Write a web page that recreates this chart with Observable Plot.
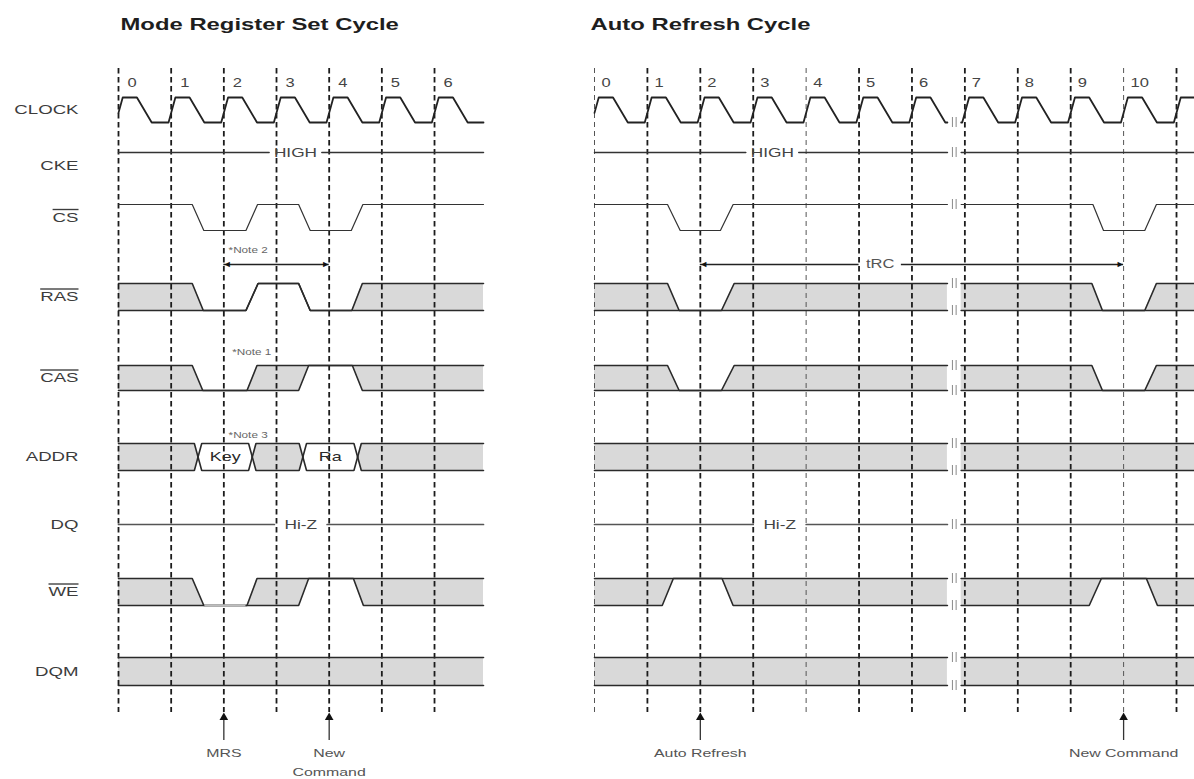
<!DOCTYPE html>
<html><head><meta charset="utf-8">
<script src="https://cdn.jsdelivr.net/npm/d3@7"></script>
<script src="https://cdn.jsdelivr.net/npm/@observablehq/plot@0.6"></script>
<style>
html,body{margin:0;padding:0;background:#fff;}
#wrap{display:flex;width:1194px;height:779px;overflow:hidden;}
#wrap svg{display:block;flex:none;}
</style></head><body><div id="wrap"></div>
<script>
// ================= DATA (time in clock cycles; levels H / L / M) =================
const signalNames = ["CLOCK","CKE","CS","RAS","CAS","ADDR","DQ","WE","DQM"];
const overlined = ["CS","RAS","CAS","WE"];
// one clock pulse, relative to its rising edge
const clockShape = [[-0.05,"L"],[0.08,"H"],[0.35,"H"],[0.63,"L"]];

// ---- Mode Register Set Cycle ----
const mrsTitle = "Mode Register Set Cycle";
const mrsEnd = 6.93;
const mrsEdges = [0,1,2,3,4,5,6];
const mrsTickLabels = ["0","1","2","3","4","5","6"];
const mrsCKE = {text:"HIGH", t:3.36};
const mrsDQ = {text:"Hi-Z", t:3.46};
const mrsCS  = [[0,"H"],[1.4,"H"],[1.62,"L"],[2.42,"L"],[2.64,"H"],[3.42,"H"],[3.64,"L"],[4.42,"L"],[4.64,"H"],[6.93,"H"]];
const mrsRAS = [[0,"H","L"],[1.4,"H","L"],[1.61,"L","L"],[2.42,"L","L"],[2.65,"H","H"],[3.42,"H","H"],[3.64,"L","L"],[4.43,"L","L"],[4.63,"H","L"],[6.93,"H","L"]];
const mrsCAS = [[0,"H","L"],[1.4,"H","L"],[1.6,"L","L"],[2.44,"L","L"],[2.63,"H","L"],[3.42,"H","L"],[3.61,"H","H"],[4.44,"H","H"],[4.63,"H","L"],[6.93,"H","L"]];
const mrsWE  = [[0,"H","L"],[1.4,"H","L"],[1.62,"L","L"],[2.44,"L","L"],[2.63,"H","L"],[3.42,"H","L"],[3.61,"H","H"],[4.46,"H","H"],[4.65,"H","L"],[6.93,"H","L"]];
const mrsWEFaint = [[1.64, 2.42]];   // faint low stretch of WE
const mrsDQM = [[0,"H","L"],[6.93,"H","L"]];
const mrsADDR = [[0,1.51,null],[1.51,2.54,"Key"],[2.54,3.5,null],[3.5,4.54,"Ra"],[4.54,6.93,null]];
const mrsEvents = [{t:2, lines:["MRS"]},{t:4, lines:["New","Command"]}];
const mrsSpans = [{t1:2, t2:4, text:null}];
const mrsNotes = [{t:2.09, text:"*Note 2", at:"note2"},{t:2.16, text:"*Note 1", at:"note1"},{t:2.09, text:"*Note 3", at:"note3"}];
const mrsThinEdges = [];

// ---- Auto Refresh Cycle ----
const arTitle = "Auto Refresh Cycle";
const arEnd = 11.34;
const arEdges = [0,1,2,3,4,5,6,7,8,9,10,11];
const arTickLabels = ["0","1","2","3","4","5","6","7","8","9","10"];
const arBreak = [6.67, 6.93];
const arCKE = {text:"HIGH", t:3.36};
const arDQ = {text:"Hi-Z", t:3.5};
const arCS  = [[0,"H"],[1.38,"H"],[1.62,"L"],[2.38,"L"],[2.62,"H"],[9.42,"H"],[9.62,"L"],[10.4,"L"],[10.62,"H"],[11.34,"H"]];
const arRAS = [[0,"H","L"],[1.38,"H","L"],[1.6,"L","L"],[2.4,"L","L"],[2.64,"H","L"],[9.4,"H","L"],[9.6,"L","L"],[10.4,"L","L"],[10.62,"H","L"],[11.34,"H","L"]];
const arCAS = [[0,"H","L"],[1.38,"H","L"],[1.6,"L","L"],[2.4,"L","L"],[2.64,"H","L"],[9.4,"H","L"],[9.6,"L","L"],[10.4,"L","L"],[10.62,"H","L"],[11.34,"H","L"]];
const arWE  = [[0,"H","L"],[1.28,"H","L"],[1.49,"H","H"],[2.41,"H","H"],[2.62,"H","L"],[9.35,"H","L"],[9.58,"H","H"],[10.43,"H","H"],[10.64,"H","L"],[11.34,"H","L"]];
const arWEFaint = [];
const arDQM = [[0,"H","L"],[11.34,"H","L"]];
const arADDR = [[0,11.34,null]];
const arEvents = [{t:2, lines:["Auto Refresh"]},{t:10, lines:["New Command"]}];
const arSpans = [{t1:2, t2:10, text:"tRC", tt:5.4}];
const arNotes = [];
const arThinEdges = [0,4,10];

// ================= LAYOUT (pixels) =================
const lanes = {CLOCK:[109.5,12.5], CKE:[165,13], CS:[217,13], RAS:[296.5,13.5], CAS:[377.5,12.5],
               ADDR:[456.5,13.5], DQ:[524,13], WE:[591.5,13.5], DQM:[671,14]};
const annotY = {note2:250, span:264, note1:352, note3:435, tick:83, title:24, ruleTop:68, ruleBottom:712,
                arrowTip:717, arrowTail:740, evLine1:753, evLine2:772};
const STRETCH = 1.38;
const GREY = "#d9d9d9";

function lv(sig, l){ const [c,h] = lanes[sig]; return c + (l==="H" ? -h : l==="L" ? h : 0); }
function clip(pts, a, b){
  const out = [];
  const lerp = (q,p,t) => { const f=(t-q.t)/(p.t-q.t); const o={t}; for (const k in p) if (k!=="t") o[k]=q[k]+(p[k]-q[k])*f; return o; };
  for (let i=0;i<pts.length;i++){
    const p = pts[i], q = pts[i-1];
    if (q && q.t<a && p.t>a) out.push(lerp(q,p,a));
    if (p.t>=a && p.t<=b) out.push(p);
    if (q && q.t<b && p.t>b) out.push(lerp(q,p,b));
  }
  return out;
}

function buildPanel(P){
  const brk = P.brk;
  const split = (pts, z) => brk
    ? [...clip(pts,-Infinity,brk[0]).map(p=>({...p,z:z+"a"})), ...clip(pts,brk[1],Infinity).map(p=>({...p,z:z+"b"}))]
    : pts.map(p=>({...p,z:z+"a"}));

  // clock
  let ck = [];
  for (const k of P.edges) for (const [dt,l] of clockShape) ck.push({t:k+dt, y:lv("CLOCK",l)});
  ck.push({t:P.end+1, y:lv("CLOCK","L")});
  const clockData = split(clip(ck,0,P.end), "clk");
  // CS
  const csData = split(P.cs.map(([t,l])=>({t, y:lv("CS",l)})), "cs");
  // CKE / DQ with a gap for their text
  const gapLine = (sig, lvl, txt, half) => {
    const pts = [{t:0,y:lv(sig,lvl)},{t:P.end,y:lv(sig,lvl)}];
    return [...split(clip(pts,0,txt.t-half), sig+"1"), ...split(clip(pts,txt.t+half,P.end), sig+"2")];
  };
  const ckeData = gapLine("CKE","H",P.cke,0.5);
  const dqData = gapLine("DQ","M",P.dq,0.5);
  // envelopes (hi / lo) of bus-style signals
  const env = (sig, arr) => split(arr.map(([t,h,l])=>({t, hi:lv(sig,h), lo:lv(sig,l)})), sig);
  const envData = [...env("RAS",P.ras), ...env("CAS",P.cas), ...env("WE",P.we), ...env("DQM",P.dqm)];
  const weFaint = P.weFaint.map(([a,b])=>({a,b}));
  // ADDR bus segments
  const d = 0.07, AH = lv("ADDR","H"), AL = lv("ADDR","L"), AM = lv("ADDR","M");
  const busLine = [], busFill = [], busText = [];
  P.addr.forEach(([t0,t1,label],i)=>{
    const pts = [];
    if (t0<=0) pts.push({t:t0,hi:AH,lo:AL}); else pts.push({t:t0,hi:AM,lo:AM},{t:t0+d,hi:AH,lo:AL});
    if (t1>=P.end) pts.push({t:t1,hi:AH,lo:AL}); else pts.push({t:t1-d,hi:AH,lo:AL},{t:t1,hi:AM,lo:AM});
    const s = split(pts, "addr"+i);
    busLine.push(...s);
    if (label==null) busFill.push(...s); else busText.push({t:(t0+t1)/2, text:label});
  });
  // break markers
  const brkMarks = [];
  if (brk) {
    const ys = [lv("CLOCK","L"), lv("CKE","H"), lv("CS","H"), lv("RAS","H"), lv("RAS","L"), lv("CAS","H"), lv("CAS","L"),
                lv("ADDR","H"), lv("ADDR","L"), lv("DQ","M"), lv("WE","H"), lv("WE","L"), lv("DQM","H"), lv("DQM","L")];
    const tm = (brk[0]+brk[1])/2;
    for (const y of ys) for (const t of [tm-0.035, tm+0.035]) brkMarks.push({t, y});
  }
  // spans
  const spanLines = [], spanText = [];
  for (const s of P.spans){
    if (s.text){ spanLines.push({a:s.t1, b:s.tt-0.4}, {a:s.tt+0.4, b:s.t2}); spanText.push({t:s.tt, text:s.text}); }
    else spanLines.push({a:s.t1, b:s.t2});
  }
  // event labels
  const evText = [];
  for (const e of P.events) e.lines.forEach((ln,i)=>evText.push({t:e.t, text:ln, y: i? annotY.evLine2 : annotY.evLine1}));
  const thick = P.edges.filter(e=>!P.thin.includes(e));

  const lineStyle = {stroke:"#2a2a2a", strokeWidth:1.6, strokeLinejoin:"miter"};
  const marks = [
    Plot.areaY(envData, {x:"t", y1:"lo", y2:"hi", z:"z", fill:GREY}),
    Plot.areaY(busFill, {x:"t", y1:"lo", y2:"hi", z:"z", fill:GREY}),
    Plot.ruleX(thick, {x:d=>d, y1:annotY.ruleTop, y2:annotY.ruleBottom, stroke:"#1c1c1c", strokeWidth:1.8, strokeDasharray:"5.5,3.5"}),
    Plot.ruleX(P.thin, {x:d=>d, y1:annotY.ruleTop, y2:annotY.ruleBottom, stroke:"#555", strokeWidth:1, strokeDasharray:"5,4"}),
    Plot.line(clockData, {x:"t", y:"y", z:"z", stroke:"#222", strokeWidth:1.8}),
    Plot.line(ckeData, {x:"t", y:"y", z:"z", stroke:"#333", strokeWidth:1.5}),
    Plot.line(csData, {x:"t", y:"y", z:"z", stroke:"#333", strokeWidth:1.2}),
    Plot.line(dqData, {x:"t", y:"y", z:"z", stroke:"#555", strokeWidth:1.7}),
    Plot.line(envData, {x:"t", y:"hi", z:"z", ...lineStyle}),
    Plot.line(envData, {x:"t", y:"lo", z:"z", ...lineStyle}),
    Plot.ruleY(weFaint, {y:lv("WE","L"), x1:"a", x2:"b", stroke:"#bdbdbd", strokeWidth:2.2}),
    Plot.line(busLine, {x:"t", y:"hi", z:"z", ...lineStyle}),
    Plot.line(busLine, {x:"t", y:"lo", z:"z", ...lineStyle}),
    Plot.ruleX(brkMarks, {x:"t", y1:d=>d.y-5, y2:d=>d.y+5, stroke:"#8a8a8a", strokeWidth:1}),
    Plot.text(busText, {x:"t", y:lanes.ADDR[0], text:"text", fontSize:13, fill:"#2a2a2a"}),
    Plot.text([P.cke], {x:"t", y:lv("CKE","H"), text:"text", fontSize:12.5, fill:"#444"}),
    Plot.text([P.dq], {x:"t", y:lv("DQ","M"), text:"text", fontSize:12.5, fill:"#444"}),
    Plot.text(P.tickLabels, {x:(d,i)=>P.edges[i], y:annotY.tick, text:d=>d, dx:P.labelDx, textAnchor:"start", fontSize:12, fill:"#444"}),
    Plot.text([P.title], {x:0, y:annotY.title, text:d=>d, dx:P.titleDx, textAnchor:"start", fontSize:17.3, fontWeight:"bold", fill:"#1e1e1e"}),
    // dimension arrows
    Plot.ruleY(spanLines, {y:annotY.span, x1:"a", x2:"b", stroke:"#222", strokeWidth:1.3}),
    Plot.text(P.spans, {x:"t1", y:annotY.span, text:()=>"◄", textAnchor:"start", dx:-1, fontSize:9, fill:"#111"}),
    Plot.text(P.spans, {x:"t2", y:annotY.span, text:()=>"►", textAnchor:"end", dx:1, fontSize:9, fill:"#111"}),
    Plot.text(spanText, {x:"t", y:annotY.span, text:"text", fontSize:12, fill:"#555"}),
    Plot.text(P.notes, {x:"t", y:d=>annotY[d.at], text:"text", textAnchor:"start", fontSize:8.5, fill:"#666"}),
    // event arrows
    Plot.ruleX(P.events, {x:"t", y1:annotY.arrowTip+3, y2:annotY.arrowTail, stroke:"#333", strokeWidth:1.3}),
    Plot.dot(P.events, {x:"t", y:annotY.arrowTip, symbol:"triangle", r:3.2, fill:"#111", stroke:"none"}),
    Plot.text(evText, {x:"t", y:"y", text:"text", fontSize:11.5, fill:"#555"})
  ];
  if (P.rowLabels) marks.push(Plot.text(signalNames, {x:0, dx:-40, y:s=>lanes[s][0], text:d=>d, textAnchor:"end", fontSize:13.5, fill:"#3c3c3c"}));

  return Plot.plot({
    width:P.width, height:779, margin:0, axis:null,
    x:{domain:[0,P.end], range:P.xRange},
    y:{domain:[0,779], range:[0,779]},
    style:{fontFamily:"'Liberation Sans', Arial, sans-serif", background:"#fff", overflow:"visible"},
    marks
  });
}

const wrap = document.getElementById("wrap");
const left = buildPanel({width:540, end:mrsEnd, xRange:[118,483], edges:mrsEdges, thin:mrsThinEdges, tickLabels:mrsTickLabels, labelDx:9, title:mrsTitle, titleDx:2,
  cs:mrsCS, ras:mrsRAS, cas:mrsCAS, we:mrsWE, weFaint:mrsWEFaint, dqm:mrsDQM, addr:mrsADDR, cke:mrsCKE, dq:mrsDQ, events:mrsEvents, spans:mrsSpans, notes:mrsNotes, brk:null, rowLabels:true});
const right = buildPanel({width:654, end:arEnd, xRange:[54,654], edges:arEdges, thin:arThinEdges, tickLabels:arTickLabels, labelDx:7, title:arTitle, titleDx:-4,
  cs:arCS, ras:arRAS, cas:arCAS, we:arWE, weFaint:arWEFaint, dqm:arDQM, addr:arADDR, cke:arCKE, dq:arDQ, events:arEvents, spans:arSpans, notes:arNotes, brk:arBreak, rowLabels:false});
wrap.appendChild(left); wrap.appendChild(right);

// wide, horizontally stretched lettering of the original
for (const svg of [left, right]) {
  svg.querySelectorAll("text").forEach(el => {
    const txt = el.textContent;
    if (overlined.includes(txt)) el.style.textDecoration = "overline";
    if (/[◄►]/.test(txt)) return;
    const len = el.getComputedTextLength();
    if (len > 0) { el.setAttribute("textLength", (len*STRETCH).toFixed(1)); el.setAttribute("lengthAdjust","spacingAndGlyphs"); }
  });
}
</script></body></html>
